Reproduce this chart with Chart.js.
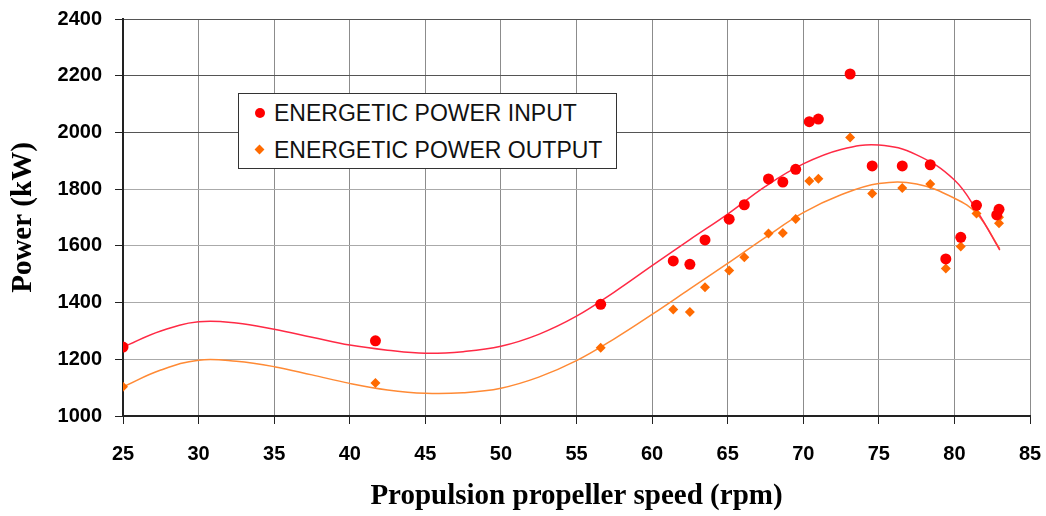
<!DOCTYPE html>
<html>
<head>
<meta charset="utf-8">
<script src="https://cdn.jsdelivr.net/npm/chart.js@4"></script>
<style>
  body { margin: 0; background: #fff; }
  #wrap { position: relative; width: 1046px; height: 516px; }
  #legend {
    position: absolute; left: 238px; top: 93px; width: 379px; height: 76px;
    box-sizing: border-box; border: 1.5px solid #333; background: #fff;
    font-family: "Liberation Sans", Arial, sans-serif; font-size: 23px; color: #111;
  }
  .item { position: absolute; left: 0; height: 26px; line-height: 26px; white-space: nowrap; }
  .item span.txt { position: absolute; left: 35px; top: 0; }
  .dot { position: absolute; left: 16px; top: 8px; width: 10px; height: 10px; border-radius: 50%; background: #ff0000; }
  .dia { position: absolute; left: 17px; top: 9px; width: 7px; height: 7px; background: #ff6a00; transform: rotate(45deg); }
</style>
</head>
<body>
<div id="wrap">
  <canvas id="chart" width="1046" height="516"></canvas>
  <div id="legend">
    <div class="item" style="top: 6px;"><span class="dot"></span><span class="txt">ENERGETIC POWER INPUT</span></div>
    <div class="item" style="top: 43px;"><span class="dia"></span><span class="txt">ENERGETIC POWER OUTPUT</span></div>
  </div>
</div>
<script>
// measured points (rpm, kW)
const speedInput = [25, 41.7, 56.6, 61.4, 62.5, 63.5, 65.1, 66.1, 67.7, 68.65, 69.5, 70.4, 71.0, 73.1, 74.56, 76.55, 78.4, 79.43, 80.42, 81.46, 82.8, 82.95];
const powerInput = [1243, 1265, 1394, 1547, 1535, 1621, 1694, 1745, 1836, 1825, 1870, 2038, 2047, 2206, 1882, 1882, 1886, 1554, 1630, 1743, 1709, 1729];

const speedOutput = [25, 41.7, 56.6, 61.4, 62.5, 63.5, 65.1, 66.1, 67.7, 68.65, 69.5, 70.4, 71.0, 73.1, 74.56, 76.55, 78.4, 79.43, 80.42, 81.46, 82.95, 82.95];
const powerOutput = [1103, 1116, 1241, 1376, 1367, 1454, 1513, 1560, 1644, 1645, 1695, 1829, 1837, 1982, 1785, 1804, 1818, 1520, 1598, 1714, 1701, 1680];

// trend curves
const trendSpeed = [25, 27.5, 30, 32.5, 35, 37.5, 40, 42.5, 45, 47.5, 50, 52.5, 55, 57.5, 60, 62.5, 65, 67.5, 70, 72.5, 75, 77.5, 80, 81.5, 83];
const trendInput = [1243, 1300, 1332, 1328, 1306, 1278, 1250, 1232, 1221, 1227, 1246, 1288, 1352, 1437, 1530, 1622, 1712, 1810, 1889, 1940, 1956, 1921, 1832, 1722, 1585];
const trendOutput = [1103, 1162, 1197, 1193, 1174, 1145, 1115, 1092, 1080, 1082, 1098, 1137, 1195, 1272, 1358, 1448, 1538, 1630, 1717, 1780, 1820, 1818, 1768, 1712, 1590];

const xTicks = [25, 30, 35, 40, 45, 50, 55, 60, 65, 70, 75, 80, 85];
const yTicks = [1000, 1200, 1400, 1600, 1800, 2000, 2200, 2400];

function pairs(xs, ys) {
  return xs.map((x, i) => ({ x: x, y: ys[i] }));
}

new Chart(document.getElementById('chart'), {
  type: 'scatter',
  data: {
    datasets: [
      {
        label: 'ENERGETIC POWER INPUT',
        data: pairs(speedInput, powerInput),
        pointStyle: 'circle', pointRadius: 5.5,
        backgroundColor: '#ff0000', borderColor: '#ff0000', borderWidth: 0,
        order: 1
      },
      {
        label: 'ENERGETIC POWER OUTPUT',
        data: pairs(speedOutput, powerOutput),
        pointStyle: 'rectRot', pointRadius: 5,
        backgroundColor: '#ff6a00', borderColor: '#ff6a00', borderWidth: 0,
        order: 1
      },
      {
        label: 'trend input',
        data: pairs(trendSpeed, trendInput),
        showLine: true, pointRadius: 0, tension: 0.4,
        borderColor: '#ff2a45', borderWidth: 1.5,
        order: 2
      },
      {
        label: 'trend output',
        data: pairs(trendSpeed, trendOutput),
        showLine: true, pointRadius: 0, tension: 0.4,
        borderColor: '#ff8a35', borderWidth: 1.5,
        order: 2
      }
    ]
  },
  options: {
    responsive: false,
    animation: false,
    devicePixelRatio: 1,
    layout: { padding: { top: 19, right: 16, left: 0, bottom: 0 } },
    plugins: { legend: { display: false }, tooltip: { enabled: false } },
    scales: {
      x: {
        type: 'linear', min: 25, max: 85,
        afterFit: s => { s.height = 100; s.paddingLeft = 0; s.paddingRight = 0; },
        afterBuildTicks: s => { s.ticks = xTicks.map(v => ({ value: v })); },
        ticks: {
          color: '#000', padding: 18,
          font: { family: 'Liberation Sans, Arial', size: 20, weight: 'bold' },
          callback: v => String(v)
        },
        grid: { color: '#8c8c8c', lineWidth: 1, tickLength: 8, tickColor: '#222' },
        border: { color: '#222', width: 2 },
        title: {
          display: true, text: 'Propulsion propeller speed (rpm)', color: '#000',
          font: { family: 'Liberation Serif, Times New Roman', size: 29, weight: 'bold' },
          padding: { top: 0, bottom: 2 }
        }
      },
      y: {
        min: 1000, max: 2400,
        afterFit: s => { s.width = 123; s.paddingTop = 0; s.paddingBottom = 0; },
        afterBuildTicks: s => { s.ticks = yTicks.map(v => ({ value: v })); },
        ticks: {
          color: '#000', padding: 13,
          font: { family: 'Liberation Sans, Arial', size: 20, weight: 'bold' },
          callback: v => String(v)
        },
        grid: {
          color: c => (c.tick && c.tick.value >= 2000) ? '#555' : '#aaa',
          lineWidth: 1, tickLength: 8, tickColor: '#222'
        },
        border: { color: '#222', width: 2 },
        title: {
          display: true, text: 'Power (kW)', color: '#000',
          font: { family: 'Liberation Serif, Times New Roman', size: 29, weight: 'bold' },
          padding: { top: 6, bottom: 0 }
        }
      }
    }
  }
});
</script>
</body>
</html>
